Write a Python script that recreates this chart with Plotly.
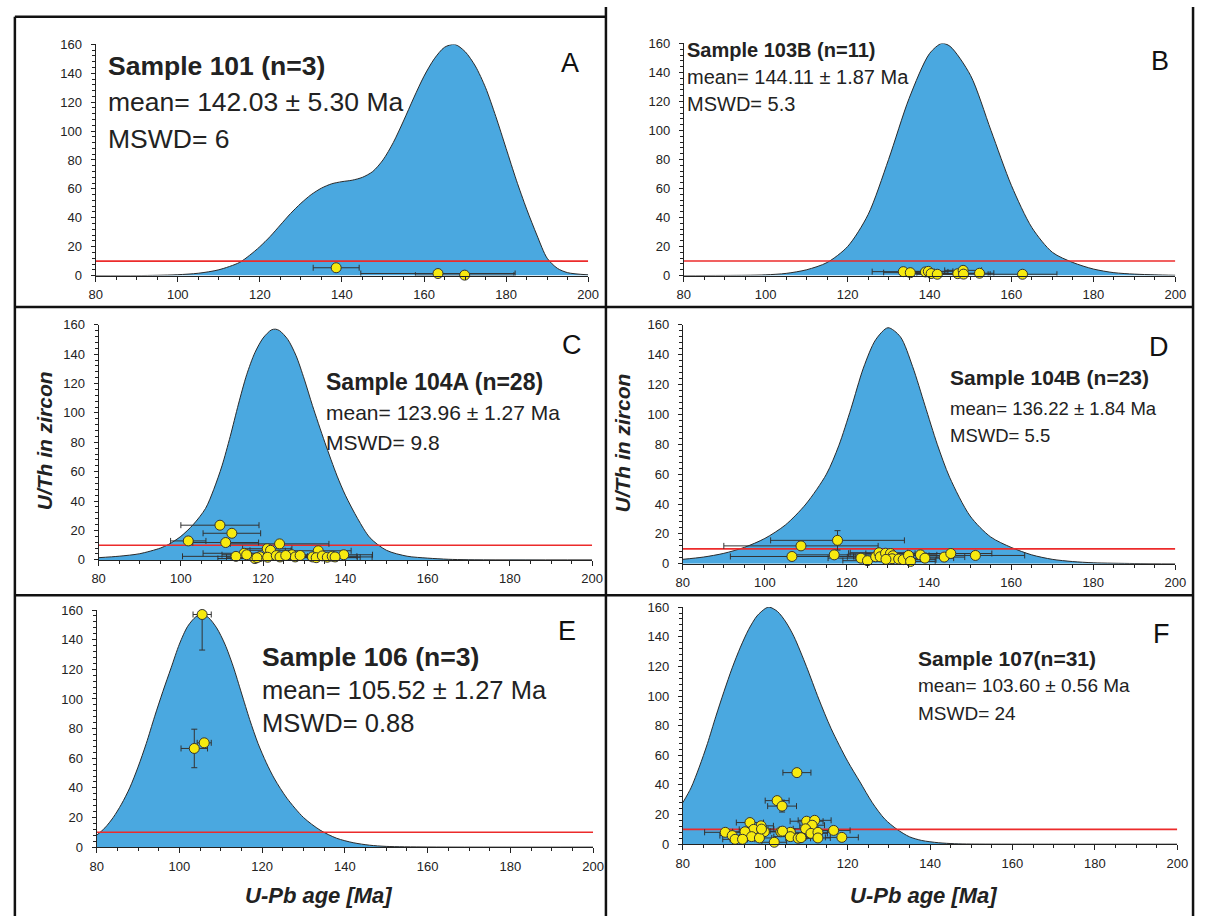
import plotly.graph_objects as go

# ---------------- data ----------------
# Probability density curves (U/Th scale)
A_curve_age = [80, 90, 95, 100, 105, 110, 115, 117.5, 120, 122.5, 125, 127.5, 130, 132.5, 135, 137.5, 140, 142.5, 145, 147.5,
               150, 152.5, 155, 157.5, 160, 162.5, 165, 167.5, 170, 172.5, 175, 177.5, 180, 182.5, 185, 187.5, 190, 192.5, 195, 200]
A_curve_val = [0, 0, 0.2, 0.6, 1.6, 4, 9, 14, 20, 27, 35, 43, 50, 56, 60.5, 63.5, 65, 66, 68, 72,
               80, 92, 107, 123, 138, 150, 158, 160, 155, 145, 130, 110, 88, 66, 46, 28, 12, 5, 2, 0.5]

B_curve_age = [80, 95, 100, 105, 110, 115, 120, 125, 130, 135, 140, 143, 145, 150, 155, 160, 165, 170, 175, 180, 185, 190, 195, 200]
B_curve_val = [0, 0.2, 0.5, 1.5, 4, 9, 20, 42, 80, 122, 153, 160, 158, 138, 100, 62, 33, 16, 9, 4.5, 2, 1, 0.5, 0.2]

C_curve_age = [80, 85, 90, 95, 97, 100, 103, 106, 108, 110, 112, 114, 116, 118, 120, 122, 123, 124, 126, 128, 130, 132,
               135, 138, 140, 143, 146, 150, 155, 160, 165, 170, 200]
C_curve_val = [1.5, 2.5, 4.2, 8, 10.5, 16, 24, 35, 48, 64, 84, 106, 126, 141, 151, 156.5, 157, 156, 150, 139, 123, 105,
               80, 57, 44, 28, 15, 6.5, 2.5, 1.2, 0.4, 0.1, 0]

D_curve_age = [80, 85, 90, 95, 100, 105, 110, 115, 118, 121, 124, 127, 130, 133, 136, 139, 142, 145, 150, 155, 160, 165, 170, 175, 180, 190, 200]
D_curve_val = [3, 4.5, 7, 11, 17, 26, 40, 60, 79, 104, 131, 150, 158, 152, 132, 106, 80, 58, 32, 18, 11, 6, 3, 1.5, 0.7, 0.2, 0]

E_curve_age = [80, 82, 84, 86, 88, 90, 92, 94, 96, 98, 100, 102, 104, 105.5, 107, 109, 111, 113, 115, 117, 119, 121, 123,
               126, 130, 134, 138, 142, 146, 150, 160, 200]
E_curve_val = [8, 13, 20, 29, 40, 54, 70, 88, 105, 121, 137, 149, 155.5, 157, 155, 148, 137, 122, 104, 86, 70, 57, 46,
               33, 20, 11.5, 6, 3, 1.3, 0.5, 0.1, 0]

F_curve_age = [80, 82, 84, 86, 88, 90, 92, 94, 96, 98, 100, 101, 103, 105, 107, 110, 113, 116, 120, 123, 126, 129, 132, 135, 138, 142, 146, 150, 200]
F_curve_val = [28, 38, 52, 68, 86, 103, 119, 133, 145, 154, 159, 160, 157, 150, 140, 120, 98, 78, 56, 42, 28, 17, 10, 5, 2.5, 1, 0.3, 0.1, 0]

# Zircon analyses: U-Pb age, age error, U/Th
A_age = [138.6, 163.4, 169.9]
A_err = [5.6, 18.8, 12.0]
A_uth = [5.4, 1.4, 0.3]

B_age = [133.6, 135.3, 139.0, 139.7, 140.4, 141.9, 146.9, 148.2, 148.3, 152.2, 162.7]
B_err = [7.6, 6.5, 5.5, 6.0, 7.0, 5.0, 6.0, 4.5, 6.5, 3.5, 8.4]
B_uth = [2.7, 2.0, 2.5, 2.9, 1.4, 0.9, 1.3, 3.6, 1.0, 1.6, 0.9]

C_age = [109.5, 112.4, 101.8, 110.9, 124.0, 121.0, 121.8, 133.4, 115.4, 113.4, 118.0, 119.2, 121.1, 123.2,
         124.1, 127.0, 127.8, 132.0, 132.9, 134.4, 135.6, 136.8, 139.6, 116.0, 125.5, 129.0, 118.5, 137.5]
C_err = [9.5, 7.0, 4.3, 8.0, 12.0, 6.0, 5.0, 8.0, 10.0, 13.0, 9.0, 7.0, 10.0, 6.0,
         8.0, 5.0, 7.0, 6.0, 10.0, 5.0, 8.0, 6.0, 7.0, 6.0, 9.0, 6.0, 5.0, 9.0]
C_uth = [23.6, 18.1, 12.9, 11.8, 10.9, 7.6, 6.5, 6.2, 4.5, 2.4, 0.9, 2.2, 1.8, 2.9,
         2.0, 3.5, 2.0, 2.0, 1.5, 2.7, 1.8, 2.5, 3.5, 3.5, 3.0, 3.0, 1.5, 2.0]
C_uth_err = [2.0, 0, 0, 0, 0, 0, 0, 0, 0, 0, 0, 0, 0, 0,
             0, 0, 0, 0, 0, 0, 0, 0, 0, 0, 0, 0, 0, 0]

D_age = [117.7, 108.8, 106.6, 116.9, 123.4, 125.0, 127.0, 127.8, 128.1, 129.4, 130.6, 131.2,
         131.0, 132.6, 133.7, 135.0, 135.5, 137.9, 139.0, 143.7, 145.3, 151.3, 129.5]
D_err = [16.3, 18.8, 15.0, 10.0, 8.0, 6.0, 5.0, 7.0, 8.0, 9.0, 6.0, 5.0,
         7.0, 6.0, 8.0, 5.0, 6.0, 4.0, 7.0, 5.0, 10.0, 12.0, 6.0]
D_uth = [15.7, 12.0, 4.9, 6.0, 3.8, 2.1, 4.7, 7.4, 4.7, 7.1, 6.9, 5.4,
         3.4, 3.2, 2.8, 5.6, 1.6, 6.0, 3.8, 4.5, 6.9, 5.6, 3.0]
D_uth_err = [6.5, 0, 0, 0, 0, 0, 0, 0, 0, 0, 0, 0, 0, 0, 0, 0, 0, 0, 0, 0, 0, 0, 0]

E_age = [105.5, 103.6, 106.0]
E_err = [2.2, 3.2, 1.7]
E_uth = [157.0, 66.6, 70.4]
E_uth_err_plus = [3.0, 13.0, 2.0]
E_uth_err_minus = [24.0, 13.0, 2.0]

F_age = [107.7, 102.9, 104.1, 96.3, 110.05, 112.0, 111.4, 99.0, 97.2, 109.8, 90.3, 95.1, 99.8, 103.8, 106.1, 104.2,
         111.1, 112.8, 116.6, 92.0, 96.7, 98.6, 106.1, 108.0, 108.7, 112.8, 118.6, 92.7, 94.5, 102.2, 99.1]
F_err = [3.4, 2.9, 3.5, 3.3, 4.0, 4.0, 3.0, 3.0, 3.5, 3.0, 5.0, 3.0, 3.0, 3.0, 3.0, 3.0,
         4.0, 3.0, 4.0, 3.0, 3.0, 3.0, 4.0, 3.0, 3.0, 3.0, 4.0, 3.0, 3.0, 3.0, 3.0]
F_uth = [48.3, 29.4, 25.7, 14.6, 15.5, 16.1, 12.8, 12.4, 10.0, 10.4, 8.0, 8.4, 8.4, 8.4, 8.0, 8.8,
         7.3, 8.0, 9.3, 5.8, 5.1, 4.2, 5.1, 4.0, 4.4, 4.2, 4.6, 3.3, 3.3, 1.3, 10.2]
F_uth_err = [0, 0, 4.0] + [0] * 28

THRESHOLD = 10
AGE_RANGE = [80, 200]
UTH_RANGE = [0, 160]

TITLES = {
    "A": ["Sample 101 (n=3)", "mean= 142.03 ± 5.30 Ma", "MSWD= 6"],
    "B": ["Sample 103B (n=11)", "mean= 144.11 ± 1.87 Ma", "MSWD= 5.3"],
    "C": ["Sample 104A (n=28)", "mean= 123.96 ± 1.27 Ma", "MSWD= 9.8"],
    "D": ["Sample 104B (n=23)", "mean= 136.22 ± 1.84 Ma", "MSWD= 5.5"],
    "E": ["Sample 106 (n=3)", "mean= 105.52 ± 1.27 Ma", "MSWD= 0.88"],
    "F": ["Sample 107(n=31)", "mean= 103.60 ± 0.56 Ma", "MSWD= 24"],
}

# ---------------- layout helpers ----------------
W, H = 1207, 924
def fx(px): return px / W
def fy(py): return 1 - py / H

FONT = "Liberation Sans, Arial, sans-serif"
INK = "#222222"
FILL = "#4aa8e0"
YELLOW = "#f7ea0f"

# panel: key, axis suffix, x px domain, y px domain (bottom, top), text x, text ys, (bold size, regular size), letter pos
panels = [
    ("A", "", (90, 590), (273, 38), 100, (60, 97, 134), (26.5, 26.5), (572, 57)),
    ("B", "2", (687, 1186), (273, 37), 688, (44, 71, 99), (20, 20), (1170, 55)),
    ("C", "3", (93, 594), (562, 323), 322, (381, 412, 443), (23, 21), (574, 344)),
    ("D", "4", (686, 1186), (566, 323), 955, (377, 408, 436), (21, 18.5), (1169, 346)),
    ("E", "5", (91, 595), (854, 613), 257, (661, 694, 728), (26.5, 25.5), (568, 634)),
    ("F", "6", (686, 1188), (851, 610), 923, (662, 690, 718), (21, 19), (1172, 637)),
]

data = {
    "A": (A_curve_age, A_curve_val, A_age, A_err, A_uth, None, None),
    "B": (B_curve_age, B_curve_val, B_age, B_err, B_uth, None, None),
    "C": (C_curve_age, C_curve_val, C_age, C_err, C_uth, C_uth_err, None),
    "D": (D_curve_age, D_curve_val, D_age, D_err, D_uth, D_uth_err, None),
    "E": (E_curve_age, E_curve_val, E_age, E_err, E_uth, E_uth_err_plus, E_uth_err_minus),
    "F": (F_curve_age, F_curve_val, F_age, F_err, F_uth, F_uth_err, None),
}

fig = go.Figure()
annotations = []
layout_axes = {}

for key, suf, xdom, ydom, tx, tys, tsizes, lpos in panels:
    cx, cv, age, err, uth, ue, ue_minus = data[key]
    xa, ya = "x" + suf, "y" + suf
    fig.add_trace(go.Scatter(x=cx, y=cv, mode="lines", line=dict(color="#2a2a2a", width=1, shape="spline", smoothing=0.8),
                             fill="tozeroy", fillcolor=FILL, xaxis=xa, yaxis=ya, showlegend=False, hoverinfo="skip"))
    fig.add_trace(go.Scatter(x=AGE_RANGE, y=[THRESHOLD, THRESHOLD], mode="lines", line=dict(color="#ec2b2b", width=1.6),
                             xaxis=xa, yaxis=ya, showlegend=False, hoverinfo="skip"))
    ey = None
    if ue is not None:
        if ue_minus is not None:
            ey = dict(type="data", symmetric=False, array=ue, arrayminus=ue_minus, color="#333333", thickness=1, width=3)
        else:
            ey = dict(type="data", array=ue, color="#333333", thickness=1, width=3)
    fig.add_trace(go.Scatter(x=age, y=uth, mode="markers",
                             marker=dict(size=10, color=YELLOW, line=dict(color="#333333", width=1)),
                             error_x=dict(type="data", array=err, color="#333333", thickness=1, width=3),
                             error_y=ey, xaxis=xa, yaxis=ya, showlegend=False, cliponaxis=False))
    common = dict(showline=True, linecolor=INK, linewidth=1, ticks="outside", tickcolor=INK,
                  showgrid=False, zeroline=False, tickfont=dict(family=FONT, size=13, color=INK), fixedrange=True)
    layout_axes["xaxis" + suf] = dict(domain=[fx(xdom[0]), fx(xdom[1])], anchor=ya, range=AGE_RANGE, dtick=20, tick0=80,
                                      ticklen=5, ticklabelstandoff=2,
                                      minor=dict(ticks="outside", ticklen=3, dtick=5, tickcolor=INK), **common)
    layout_axes["yaxis" + suf] = dict(domain=[fy(ydom[0]), fy(ydom[1])], anchor=xa, range=UTH_RANGE, dtick=20, tick0=0,
                                      ticklen=4, ticklabelstandoff=6,
                                      minor=dict(ticks="outside", ticklen=3, dtick=4, tickcolor=INK), **common)
    t = TITLES[key]
    for i, (txt, ty) in enumerate(zip(t, tys)):
        annotations.append(dict(text=("<b>%s</b>" % txt) if i == 0 else txt, x=fx(tx), y=fy(ty), xref="paper", yref="paper",
                                xanchor="left", yanchor="middle", showarrow=False,
                                font=dict(family=FONT, size=tsizes[0] if i == 0 else tsizes[1], color=INK)))
    annotations.append(dict(text=key, x=fx(lpos[0]), y=fy(lpos[1]), xref="paper", yref="paper", xanchor="center",
                            yanchor="middle", showarrow=False, font=dict(family=FONT, size=27, color="#111111")))

# axis titles
for px_, py_ in [(38, 441), (625, 443)]:
    annotations.append(dict(text="<b><i>U/Th in zircon</i></b>", x=fx(px_), y=fy(py_), xref="paper", yref="paper",
                            textangle=-90, showarrow=False, xanchor="center", yanchor="middle",
                            font=dict(family=FONT, size=21, color=INK)))
for px_, py_ in [(316, 903), (930, 903)]:
    annotations.append(dict(text="<b><i>U-Pb age [Ma]</i></b>", x=fx(px_), y=fy(py_), xref="paper", yref="paper",
                            showarrow=False, xanchor="center", yanchor="middle",
                            font=dict(family=FONT, size=22, color=INK)))

# panel frames
shapes = []
def line(x0, y0, x1, y1):
    shapes.append(dict(type="line", xref="paper", yref="paper", x0=fx(x0), y0=fy(y0), x1=fx(x1), y1=fy(y1),
                       line=dict(color="#111111", width=2.5)))
line(8, 10, 608, 10)
line(8, 10, 8, 924)
line(608, 0, 608, 924)
line(1204, 0, 1204, 924)
line(8, 305, 1204, 305)
line(8, 598, 1204, 598)

fig.update_layout(width=W, height=H, margin=dict(l=0, r=0, t=0, b=0), paper_bgcolor="white", plot_bgcolor="white",
                  annotations=annotations, shapes=shapes, **layout_axes)

fig.write_html("out.html")
